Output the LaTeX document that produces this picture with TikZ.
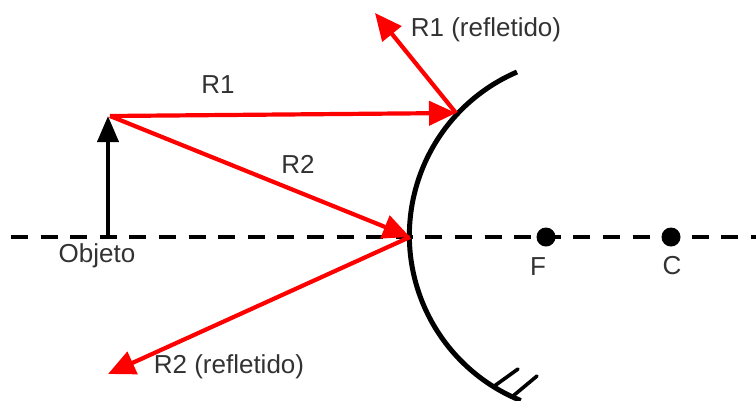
\documentclass[tikz,border=0pt]{standalone}
\usepackage{fontspec}
\setmainfont{Liberation Sans}
\usetikzlibrary{arrows.meta}
\definecolor{ray}{RGB}{255,0,0}
\definecolor{ink}{RGB}{50,50,50}
\tikzset{
  x=1pt,y=1pt,
  lbl/.style={text=ink,font=\fontsize{26}{28}\selectfont,inner sep=0pt,anchor=base},
  rayline/.style={draw=ray,line width=4.2pt,-{Triangle[length=27pt,width=24pt,fill=ray]}},
  objline/.style={draw=black,line width=4pt,-{Triangle[length=26pt,width=21pt,fill=black]}},
  axisline/.style={draw=black,line width=4pt,dash pattern=on 17pt off 12.6pt},
  mirrorline/.style={draw=black,line width=5pt},
  hatchline/.style={draw=black,line width=3.6pt,line cap=round},
  focal/.style={circle,fill=black,inner sep=0pt,minimum size=19pt}
}
\begin{document}
\begin{tikzpicture}
\useasboundingbox (0,-400) rectangle (756,0);
\coordinate (axisL) at (11,-237);
\coordinate (axisR) at (756,-237);
\coordinate (base) at (108,-237);
\coordinate (tip) at (110,-116);
\coordinate (hitA) at (456,-113);
\coordinate (hitB) at (410,-237);
\coordinate (endA) at (375,-13);
\coordinate (endB) at (108,-374);
\coordinate (mirrorTop) at (517,-72);
\coordinate (h1a) at (493,-387);
\coordinate (h1b) at (518,-369);
\coordinate (h2a) at (513,-396);
\coordinate (h2b) at (537,-376);
\draw[axisline] (axisL) -- (axisR);
\begin{scope}
\clip (0,-400) rectangle (756,0);
\draw[mirrorline] (mirrorTop) arc[start angle=113.3,end angle=248,radius=178pt];
\end{scope}
\draw[hatchline] (h1a) -- (h1b);
\draw[hatchline] (h2a) -- (h2b);
\draw[objline] (base) -- (108,-116);
\draw[rayline] (tip) -- (hitA);
\draw[rayline] (tip) -- (hitB);
\draw[rayline] (hitA) -- (endA);
\draw[rayline] (hitB) -- (endB);
\node[focal] (F) at (546,-237) {};
\node[focal] (C) at (671,-237) {};
\node[lbl] (lobj) at (97,-262) {Objeto};
\node[lbl] (lf) at (538,-275) {F};
\node[lbl] (lc) at (672,-274) {C};
\node[lbl] (lr1) at (218,-93) {R1};
\node[lbl] (lr2) at (298,-173) {R2};
\node[lbl] (lr1r) at (486,-36) {R1 (refletido)};
\node[lbl] (lr2r) at (229,-373) {R2 (refletido)};
\end{tikzpicture}
\end{document}
